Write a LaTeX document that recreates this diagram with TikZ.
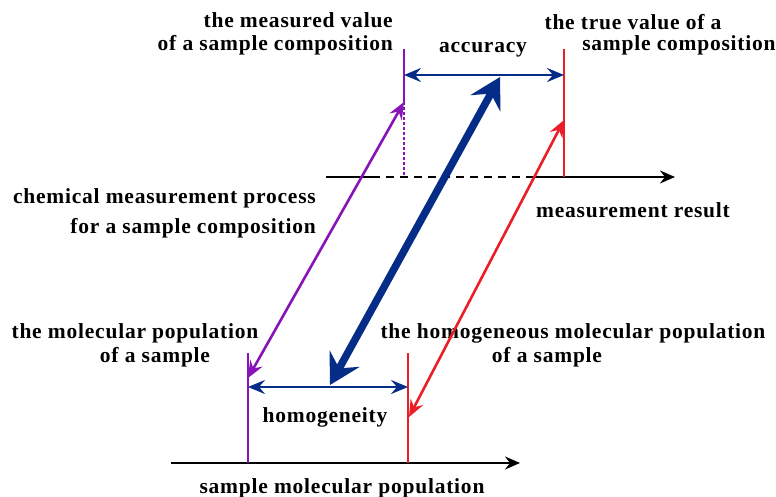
\documentclass[tikz,border=0pt]{standalone}
\usepackage{fontspec}
\setmainfont{Liberation Serif}[LetterSpace=3.6]
\usetikzlibrary{arrows.meta}
\definecolor{cpurple}{RGB}{135,20,185}
\definecolor{cred}{RGB}{235,30,40}
\definecolor{cnavy}{RGB}{5,45,135}
\tikzset{
  lbl/.style={font=\fontsize{21.5}{23.5}\selectfont\bfseries, inner sep=0pt, text=black},
  axis/.style={line width=2.2pt, -{Stealth[length=15pt,width=13pt,inset=5pt]}},
  tick/.style={line width=1.3pt},
  thin2/.style={line width=2.6pt, {Stealth[length=17pt,width=14pt,inset=6pt]}-{Stealth[length=17pt,width=14pt,inset=6pt]}},
  thick2/.style={line width=7.5pt, cnavy, {Stealth[length=30pt,width=34pt,inset=11pt]}-{Stealth[length=30pt,width=34pt,inset=11pt]}}
}
\begin{document}
\begin{tikzpicture}[x=1pt,y=-1pt]
\useasboundingbox (0,0) rectangle (776,497);
% labels
\node[lbl, anchor=east, align=right] (mvl) at (393,34) {the measured value\\of a sample composition};
\node[lbl] (acc) at (483,50) {accuracy};
\node[lbl] (tv1) at (633,22) {the true value of a};
\node[lbl] (tv2) at (679,45) {sample composition};
\node[lbl, anchor=east, align=right, font=\fontsize{21.5}{30}\selectfont\bfseries] (cmp) at (316,213) {chemical measurement process\\for a sample composition};
\node[lbl] (mr) at (633,210) {measurement result};
\node[lbl] (mp1) at (135,333) {the molecular population};
\node[lbl] (mp2) at (155,357) {of a sample};
\node[lbl] (hp1) at (573,333) {the homogeneous molecular population};
\node[lbl] (hp2) at (547,357) {of a sample};
\node[lbl] (hom) at (325,417) {homogeneity};
\node[lbl] (smp) at (342,488) {sample molecular population};
% coordinates
\coordinate (ta0) at (326,177);
\coordinate (ta1) at (372,177);
\coordinate (ta2) at (530,177);
\coordinate (ta3) at (675,177);
\coordinate (mvT) at (404,49);
\coordinate (mvA) at (404,102);
\coordinate (mvB) at (404,177);
\coordinate (tvT) at (564,49);
\coordinate (tvA) at (564,120);
\coordinate (tvB) at (564,177);
\coordinate (acL) at (404,75);
\coordinate (acR) at (564,75);
\coordinate (ba0) at (171,463);
\coordinate (ba1) at (520,463);
\coordinate (mpT) at (248,353);
\coordinate (mpA) at (248,378);
\coordinate (mpB) at (248,463);
\coordinate (hpT) at (408,353);
\coordinate (hpA) at (409,417);
\coordinate (hpB) at (408,463);
\coordinate (hoL) at (248,387);
\coordinate (hoR) at (408,387);
\coordinate (blT) at (500,77);
\coordinate (blB) at (330,385);
% top axis
\draw[line width=2.2pt] (ta0) -- (ta1);
\draw[line width=2.2pt, dash pattern=on 8pt off 6pt] (ta1) -- (ta2);
\draw[axis] (ta2) -- (ta3);
% top verticals
\draw[tick, cpurple] (mvT) -- (mvA);
\draw[tick, cpurple, dash pattern=on 3pt off 2pt] (mvA) -- (mvB);
\draw[tick, cred] (tvT) -- (tvB);
\draw[thin2, cnavy] (acL) -- (acR);
% bottom axis
\draw[axis] (ba0) -- (ba1);
\draw[tick, cpurple] (mpT) -- (mpB);
\draw[tick, cred] (hpT) -- (hpB);
\draw[thin2, cnavy] (hoL) -- (hoR);
% diagonals
\draw[thin2, cpurple] (mpA) -- (mvA);
\draw[thin2, cred] (hpA) -- (tvA);
\draw[thick2] (blB) -- (blT);
\end{tikzpicture}
\end{document}
